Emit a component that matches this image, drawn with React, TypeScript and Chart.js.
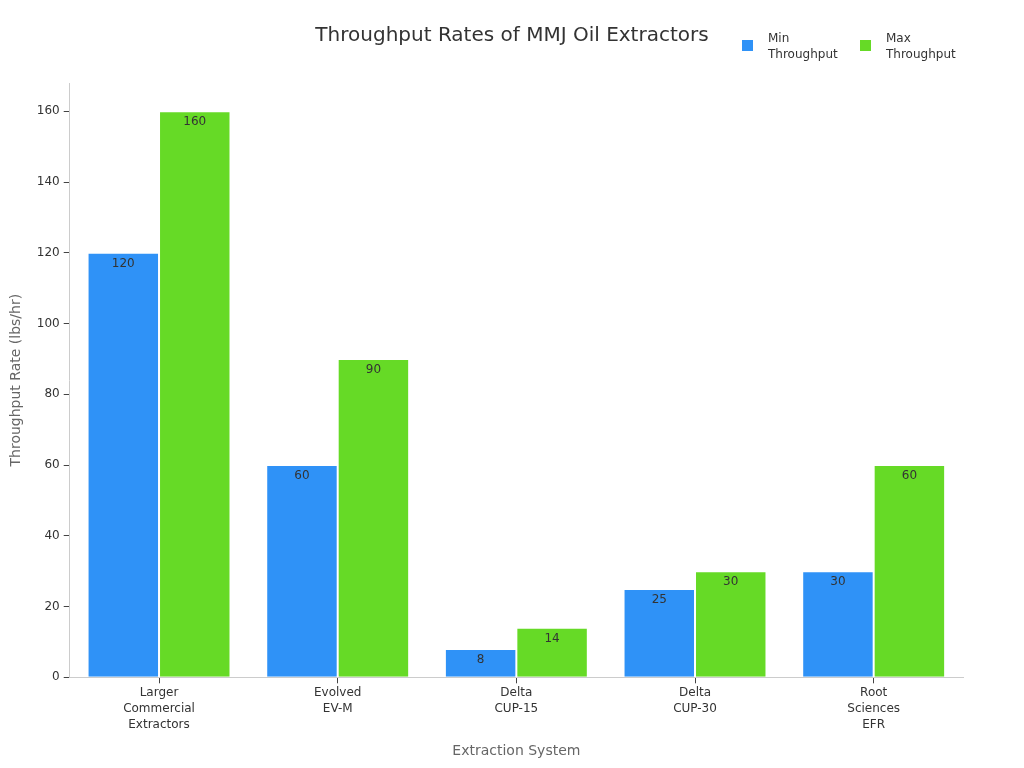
import React, { useEffect, useRef } from "react";
import { Chart, registerables } from "chart.js";

Chart.register(...registerables);

const chartTitle = "Throughput Rates of MMJ Oil Extractors";
const categories: string[][] = [
  ["Larger", "Commercial", "Extractors"],
  ["Evolved", "EV-M"],
  ["Delta", "CUP-15"],
  ["Delta", "CUP-30"],
  ["Root", "Sciences", "EFR"],
];
const minThroughput = [120, 60, 8, 25, 30];
const maxThroughput = [160, 90, 14, 30, 60];
const seriesNames = [["Min", "Throughput"], ["Max", "Throughput"]];
const colors = ["#2f92f7", "#66da26"];

const FONT = "'DejaVu Sans', sans-serif";

const labelPlugin = {
  id: "barLabels",
  afterDatasetsDraw(chart: any) {
    const ctx = chart.ctx;
    ctx.save();
    ctx.font = `12px ${FONT}`;
    ctx.fillStyle = "#333333";
    ctx.textAlign = "center";
    ctx.textBaseline = "top";
    chart.data.datasets.forEach((ds: any, i: number) => {
      const meta = chart.getDatasetMeta(i);
      meta.data.forEach((bar: any, j: number) => {
        ctx.fillText(String(ds.data[j]), bar.x, bar.y + 5);
      });
    });
    ctx.restore();
  },
};

const legendPlugin = {
  id: "customLegend",
  afterDraw(chart: any) {
    const ctx = chart.ctx;
    ctx.save();
    ctx.font = `20px ${FONT}`;
    ctx.fillStyle = "#333333";
    ctx.textAlign = "center";
    ctx.textBaseline = "middle";
    ctx.fillText(chartTitle, chart.width / 2, 28);

    ctx.font = `12px ${FONT}`;
    ctx.textAlign = "left";
    const starts = [734, 852];
    seriesNames.forEach((name, i) => {
      const x = starts[i];
      ctx.fillStyle = colors[i];
      ctx.fillRect(x, 32, 11, 11);
      ctx.fillStyle = "#333333";
      ctx.fillText(name[0], x + 26, 31);
      ctx.fillText(name[1], x + 26, 47);
    });
    ctx.restore();
  },
};

export default function App() {
  const ref = useRef<HTMLCanvasElement | null>(null);
  useEffect(() => {
    if (!ref.current) return;
    const chart = new Chart(ref.current, {
      type: "bar",
      data: {
        labels: categories,
        datasets: [
          {
            label: "Min Throughput",
            data: minThroughput,
            backgroundColor: colors[0],
            borderColor: "#ffffff",
            borderWidth: 1,
          },
          {
            label: "Max Throughput",
            data: maxThroughput,
            backgroundColor: colors[1],
            borderColor: "#ffffff",
            borderWidth: 1,
          },
        ],
      },
      options: {
        animation: false,
        responsive: true,
        maintainAspectRatio: false,
        layout: { padding: { left: 0, right: 53, top: 75, bottom: 0 } },
        datasets: { bar: { categoryPercentage: 0.8, barPercentage: 1.0 } },
        plugins: {
          legend: { display: false },
          tooltip: { enabled: false },
          title: { display: false },
        },
        scales: {
          x: {
            grid: { offset: false, drawOnChartArea: false, drawTicks: true, tickLength: 6, color: "#444444" },
            border: { display: true, color: "#cccccc" },
            ticks: { color: "#333333", font: { family: FONT, size: 12, lineHeight: 1.33 }, padding: 2 },
            title: {
              display: true,
              text: "Extraction System",
              color: "#666666",
              font: { family: FONT, size: 14 },
              padding: { top: 8, bottom: 0 },
            },
          },
          y: {
            min: 0,
            max: 168,
            afterBuildTicks: (axis: any) => {
              axis.ticks = axis.ticks.filter((t: any) => t.value % 20 === 0);
            },
            grid: { drawOnChartArea: false, drawTicks: true, tickLength: 6, color: "#444444" },
            border: { display: true, color: "#cccccc" },
            ticks: {
              stepSize: 20,
              color: "#333333",
              font: { family: FONT, size: 12 },
              padding: 4,
            },
            title: {
              display: true,
              text: "Throughput Rate (lbs/hr)",
              color: "#666666",
              font: { family: FONT, size: 14 },
              padding: { top: 0, bottom: 8 },
            },
          },
        },
      },
      plugins: [labelPlugin, legendPlugin],
    });
    return () => chart.destroy();
  }, []);
  return (
    <div style={{ width: 1008, height: 752 }}>
      <canvas ref={ref} />
    </div>
  );
}
